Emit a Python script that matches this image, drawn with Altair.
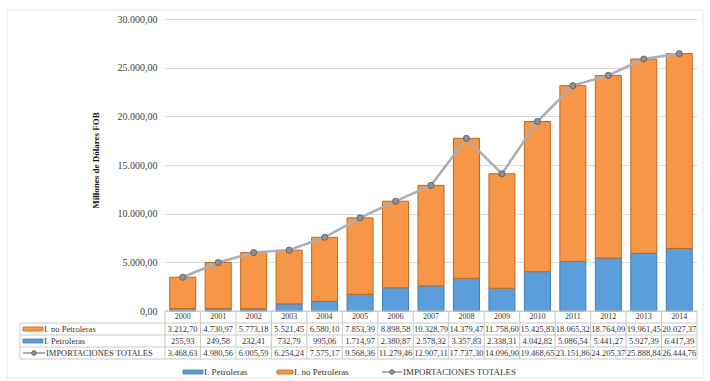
import altair as alt
import pandas as pd

# Importaciones (millones de dólares FOB)
years = [str(y) for y in range(2000, 2015)]
no_petroleras = [3212.70, 4730.97, 5773.18, 5521.45, 6580.10, 7853.39, 8898.58,
                 10328.79, 14379.47, 11758.60, 15425.83, 18065.32, 18764.09,
                 19961.45, 20027.37]
petroleras = [255.93, 249.58, 232.41, 732.79, 995.06, 1714.97, 2380.87, 2578.32,
              3357.83, 2338.31, 4042.82, 5086.54, 5441.27, 5927.39, 6417.39]
totales = [3468.63, 4980.56, 6005.59, 6254.24, 7575.17, 9568.36, 11279.46,
           12907.11, 17737.30, 14096.90, 19468.65, 23151.86, 24205.37,
           25888.84, 26444.76]

S_PET = "I. Petroleras"
S_NOP = "I. no Petroleras"
S_TOT = "IMPORTACIONES TOTALES"

ORANGE = "#F79646"
ORANGE_EDGE = "#C0671F"
BLUE = "#5A9FDB"
BLUE_EDGE = "#3F7DBA"
LINE = "#A9AEB8"
DOT = "#8E9198"
BORDER = "#C9C9C9"
TEXT = "#333333"
FONT = "Liberation Serif"

W, H = 532, 292


def es(v):
    s = f"{v:,.2f}"
    return s.replace(",", "_").replace(".", ",").replace("_", ".")


bars = pd.DataFrame(
    [{"year": y, "serie": S_PET, "ord": 0, "value": v} for y, v in zip(years, petroleras)]
    + [{"year": y, "serie": S_NOP, "ord": 1, "value": v} for y, v in zip(years, no_petroleras)]
)
tot = pd.DataFrame({"year": years, "total": totales})

table = pd.DataFrame(
    [{"year": y, "row": 0, "txt": es(v)} for y, v in zip(years, no_petroleras)]
    + [{"year": y, "row": 1, "txt": es(v)} for y, v in zip(years, petroleras)]
    + [{"year": y, "row": 2, "txt": es(v)} for y, v in zip(years, totales)]
)

one = pd.DataFrame({"k": [0]})

xscale = alt.Scale(paddingInner=0, paddingOuter=0)
x_year = alt.X("year:O", scale=xscale, axis=None)

yaxis = alt.Axis(
    title="Millones de Dólares FOB",
    values=[0, 5000, 10000, 15000, 20000, 25000, 30000],
    labelExpr="replace(format(datum.value, ','), ',', '.') + ',00'",
    labelFont=FONT, labelFontSize=10, labelColor="#404040", labelPadding=8,
    titleFont=FONT, titleFontSize=9, titleFontWeight="bold", titleColor="#111111",
    titleX=-70, titleY=141, titleAngle=270, titleAlign="center", titleBaseline="middle",
    grid=True, gridColor="#DADADA", domain=False, ticks=False,
)

stack = alt.Chart(bars).mark_bar(size=26, strokeWidth=1).encode(
    x=x_year,
    y=alt.Y("value:Q", stack="zero", scale=alt.Scale(domain=[0, 30000], nice=False), axis=yaxis),
    color=alt.Color("serie:N", scale=alt.Scale(domain=[S_PET, S_NOP], range=[BLUE, ORANGE]), legend=None),
    stroke=alt.Stroke("serie:N", scale=alt.Scale(domain=[S_PET, S_NOP], range=[BLUE_EDGE, ORANGE_EDGE]), legend=None),
    order=alt.Order("ord:Q"),
)

line = alt.Chart(tot).mark_line(color=LINE, strokeWidth=2.5).encode(
    x=x_year, y=alt.Y("total:Q")
)
dots = alt.Chart(tot).mark_point(filled=False, fill=DOT, stroke="#4D4D4D", strokeWidth=0.7,
                                  size=38, opacity=1).encode(
    x=x_year, y=alt.Y("total:Q")
)

# ---- data table under the plot ----
years_df = pd.DataFrame({"year": years})
year_text = alt.Chart(years_df).mark_text(font=FONT, fontSize=8, color=TEXT, baseline="middle").encode(
    x=x_year, y=alt.value(298), text="year:N"
)
row_y = {0: 310, 1: 322, 2: 334}
value_text = alt.Chart(table).transform_calculate(
    py="datum.row == 0 ? 310 : (datum.row == 1 ? 322 : 334)"
).mark_text(font=FONT, fontSize=8.5, color=TEXT, baseline="middle").encode(
    x=x_year, y=alt.Y("py:Q", scale=None), text="txt:N"
)

vlines = alt.Chart(years_df).mark_rule(color=BORDER, strokeWidth=1).encode(
    x=alt.X("year:O", scale=xscale, axis=None, bandPosition=0),
    y=alt.value(292), y2=alt.value(340),
)
vline_end = alt.Chart(one).mark_rule(color=BORDER, strokeWidth=1).encode(
    x=alt.value(W), y=alt.value(292), y2=alt.value(340)
)
vline_left = alt.Chart(one).mark_rule(color=BORDER, strokeWidth=1).encode(
    x=alt.value(-145), y=alt.value(304), y2=alt.value(340)
)
hlines = [
    alt.Chart(one).mark_rule(color=BORDER, strokeWidth=1).encode(
        x=alt.value(0 if yy == 292 else -145), x2=alt.value(W), y=alt.value(yy)
    )
    for yy in (292, 304, 316, 328, 340)
]


def swatch(x0, x1, yc, fill, edge):
    return alt.Chart(one).mark_rect(fill=fill, stroke=edge, strokeWidth=0.8).encode(
        x=alt.value(x0), x2=alt.value(x1), y=alt.value(yc - 2), y2=alt.value(yc + 2)
    )


def line_key(x0, x1, yc):
    seg = alt.Chart(one).mark_rule(color=LINE, strokeWidth=2).encode(
        x=alt.value(x0), x2=alt.value(x1), y=alt.value(yc)
    )
    dot = alt.Chart(one).mark_point(filled=False, fill=DOT, stroke="#4D4D4D", strokeWidth=0.7,
                                   size=22, opacity=1).encode(
        x=alt.value((x0 + x1) / 2), y=alt.value(yc)
    )
    return [seg, dot]


def label(x, yc, txt, size):
    return alt.Chart(one).mark_text(font=FONT, fontSize=size, color=TEXT, align="left",
                                    baseline="middle").encode(
        x=alt.value(x), y=alt.value(yc), text=alt.value(txt)
    )


row_keys = [
    swatch(-142, -122, 310, ORANGE, ORANGE_EDGE), label(-121, 310, S_NOP, 8.5),
    swatch(-142, -122, 322, BLUE, BLUE_EDGE), label(-121, 322, S_PET, 8.5),
    *line_key(-142, -120, 334), label(-119, 334, S_TOT, 8.5),
]

legend = [
    swatch(18, 38, 353, BLUE, BLUE_EDGE), label(39, 353, S_PET, 9),
    swatch(112, 128, 353, ORANGE, ORANGE_EDGE), label(129, 353, S_NOP, 9),
    *line_key(217, 237, 353), label(238, 353, S_TOT, 9),
]

frame = alt.Chart(one).mark_rect(fill=None, stroke="#E6E6E6", strokeWidth=1).encode(
    x=alt.value(-158), x2=alt.value(538), y=alt.value(-9), y2=alt.value(359)
)

chart = alt.layer(
    frame, stack, line, dots,
    *hlines, vlines, vline_end, vline_left,
    year_text, value_text, *row_keys, *legend,
).properties(
    width=W, height=H,
    autosize=alt.AutoSizeParams(type="none"),
    padding={"left": 165, "top": 19, "right": 13, "bottom": 70},
    background="white",
).configure_view(stroke=None)

chart.save("out.html", embed_options={"renderer": "svg", "actions": False})
